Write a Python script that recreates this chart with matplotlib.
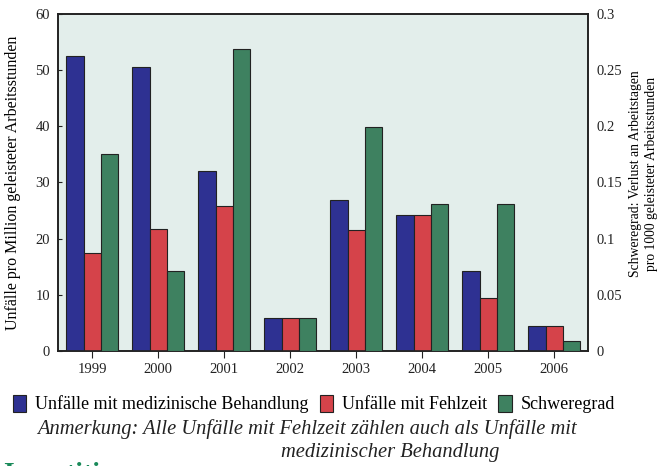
import numpy as np
from matplotlib import pyplot as plt

plt.rcParams['font.family'] = ['Liberation Serif', 'DejaVu Serif']

years = ['1999', '2000', '2001', '2002', '2003', '2004', '2005', '2006']
# Unfaelle pro Million Arbeitsstunden (linke Achse)
med = [52.5, 50.5, 32.0, 5.9, 26.9, 24.2, 14.2, 4.4]
fehl = [17.5, 21.7, 25.8, 5.9, 21.6, 24.2, 9.4, 4.4]
# Schweregrad (rechte Achse)
schwer = [0.175, 0.0715, 0.269, 0.0295, 0.199, 0.1305, 0.131, 0.0092]

c_blue = '#2e3192'
c_red = '#d5434a'
c_green = '#3e8160'

fig = plt.figure(figsize=(6.65, 4.66), dpi=100)
ax = fig.add_axes([0.0877, 0.247, 0.797, 0.723])
ax.set_facecolor('#e3eeeb')
ax2 = ax.twinx()

x = np.arange(len(years))
w = 0.263
b1 = ax.bar(x - w, med, w, color=c_blue, edgecolor='#222222', linewidth=0.8, zorder=3)
b2 = ax.bar(x, fehl, w, color=c_red, edgecolor='#222222', linewidth=0.8, zorder=3)
b3 = ax2.bar(x + w, schwer, w, color=c_green, edgecolor='#222222', linewidth=0.8, zorder=3)

ax.set_xlim(-0.515, 7.515)
ax.set_ylim(0, 60)
ax2.set_ylim(0, 0.3)
ax.set_xticks(x)
ax.set_xticklabels(years)
ax.set_yticks(range(0, 61, 10))
ax2.set_yticks([0, 0.05, 0.1, 0.15, 0.2, 0.25, 0.3])
ax2.set_yticklabels(['0', '0.05', '0.1', '0.15', '0.2', '0.25', '0.3'])

for a in (ax, ax2):
    a.tick_params(labelsize=10.5, length=4, width=0.8, colors='#222222')
    for s in a.spines.values():
        s.set_linewidth(1.2)
        s.set_color('#222222')
ax.tick_params(axis='y', direction='in', length=3, pad=6)
ax2.tick_params(axis='y', direction='in', length=0, pad=6)
ax.tick_params(axis='x', length=5, pad=4)

ax.set_ylabel('Unfälle pro Million geleisteter Arbeitsstunden', fontsize=11.5)
ax.yaxis.set_label_coords(-0.07, 0.5)
ax2.set_ylabel('Schweregrad: Verlust an Arbeitstagen\npro 1000 geleisteter Arbeitsstunden',
               fontsize=9.8, linespacing=1.3)
ax2.yaxis.set_label_coords(1.077, 0.525)

fig.legend([b1, b2, b3],
           ['Unfälle mit medizinische Behandlung', 'Unfälle mit Fehlzeit', 'Schweregrad'],
           loc='center', bbox_to_anchor=(0.472, 0.133), ncol=3, frameon=False,
           fontsize=13, handlelength=0.75, handleheight=1.05, handletextpad=0.5,
           columnspacing=0.6)

fig.text(0.462, 0.08, 'Anmerkung: Alle Unfälle mit Fehlzeit zählen auch als Unfälle mit',
         ha='center', va='center', fontsize=14.8, style='italic', color='#222222')
fig.text(0.587, 0.03, 'medizinischer Behandlung',
         ha='center', va='center', fontsize=14.8, style='italic', color='#222222')

# abgeschnittener Titel oben und Ueberschrift unten
fig.text(0.505, 1.0, 'Unfallentwicklung', ha='right', va='bottom', fontsize=14,
         fontweight='bold', color='#111111')
fig.text(0.005, -0.045, 'Investitionen', ha='left', va='bottom', fontsize=20,
         fontweight='bold', color='#1a8a5a')

fig.savefig('out.png', dpi=100)
